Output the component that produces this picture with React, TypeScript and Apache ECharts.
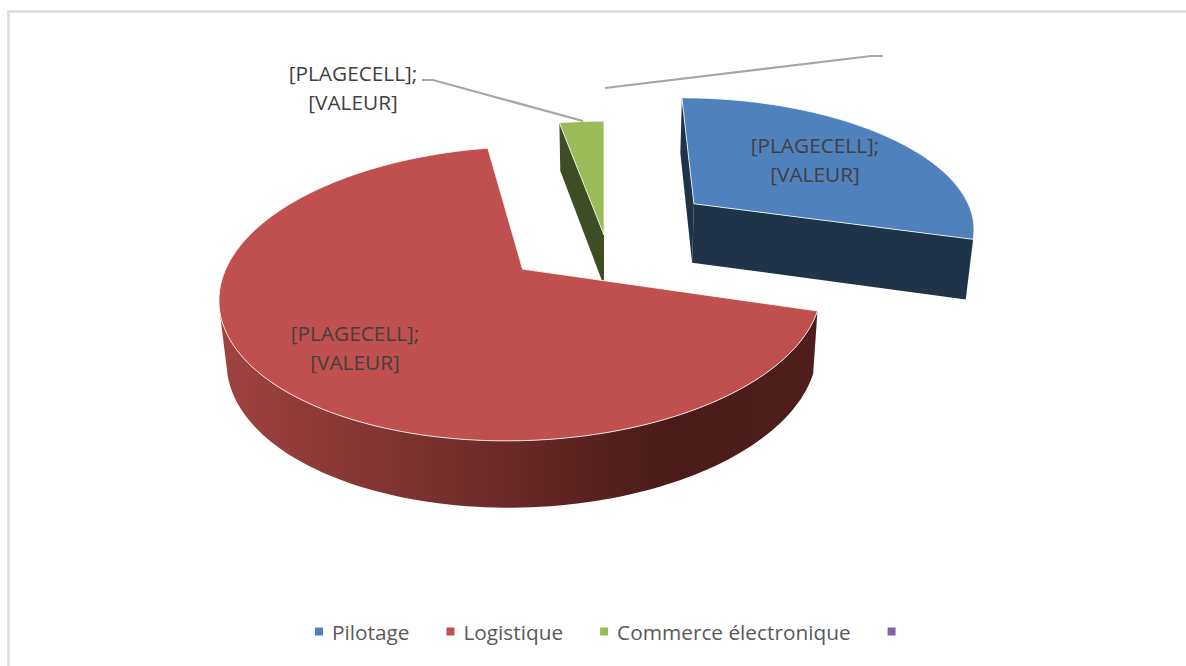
import React, { useEffect, useRef } from "react";
import * as echarts from "echarts";

const categories = ["Pilotage", "Logistique", "Commerce électronique", " "];
const values = [29.5, 67.6, 2.9, 0];
const explosions = [0.41, 0.37, 0, 0];
const topColors = ["#4f81bd", "#c0504d", "#9bbb59", "#8064a2"];
const sideColors = ["#1f3349", "", "#3f4d24", "#4d3b62"];
const labelText = "[PLAGECELL];\n[VALEUR]";

const CX = 604, CY = 235, RX = 285, RY = 132, K = 0.16, DEPTH = 60, SHRINK = 0.98;
const GREEN_DEPTH = 0.85;
const total = values.reduce((a, b) => a + b, 0);
const toAngle = (v: number) => (v / total) * Math.PI * 2;

type P = [number, number];
function project(u: number, v: number, low: boolean, depth: number): P {
  const s = 1 / (1 - K * v);
  const b = low ? SHRINK : 1;
  return [CX + RX * u * s * b, CY + RY * v * s * b + (low ? depth * Math.pow(s, 0.75) : 0)];
}
function area(pts: P[]) {
  let a = 0;
  for (let i = 0; i < pts.length; i++) {
    const [x0, y0] = pts[i];
    const [x1, y1] = pts[(i + 1) % pts.length];
    a += x0 * y1 - x1 * y0;
  }
  return a / 2;
}

function makeRender(index: number) {
  return (_p: any, api: any) => {
    const value = api.value(0);
    if (!value) return { type: "group", children: [] };
    const before = values.slice(0, index).reduce((a, b) => a + b, 0);
    const a0 = toAngle(before);
    const a1 = a0 + toAngle(value);
    const mid = (a0 + a1) / 2;
    const e = explosions[index];
    const ou = e * Math.sin(mid);
    const ov = -e * Math.cos(mid);
    const depth = index === 2 ? DEPTH * GREEN_DEPTH : DEPTH;
    const rim = (a: number, low: boolean) =>
      project(ou + Math.sin(a), ov - Math.cos(a), low, depth);
    const apexT = project(ou, ov, false, depth);
    const apexB = project(ou, ov, true, depth);
    const n = 160;
    const angles: number[] = [];
    for (let i = 0; i <= n; i++) angles.push(a0 + ((a1 - a0) * i) / n);

    const children: any[] = [];
    const side = sideColors[index];
    // radial faces (only those turned to the viewer)
    const startFace: P[] = [apexT, apexB, rim(a0, true), rim(a0, false)];
    const endFace: P[] = [rim(a1, false), rim(a1, true), apexB, apexT];
    if (area(startFace) > 0) children.push({ type: "polygon", shape: { points: startFace }, style: { fill: side } });
    if (area(endFace) > 0) children.push({ type: "polygon", shape: { points: endFace }, style: { fill: side } });
    // outer wall, front-facing stretch only
    const front: number[] = [];
    for (let i = 0; i < n; i++) {
      const q: P[] = [rim(angles[i], false), rim(angles[i + 1], false), rim(angles[i + 1], true), rim(angles[i], true)];
      if (area(q) < 0) {
        if (!front.length) front.push(angles[i]);
        front.push(angles[i + 1]);
      }
    }
    if (front.length) {
      const pts: P[] = [
        ...front.map((a) => rim(a, false)),
        ...front.slice().reverse().map((a) => rim(a, true)),
      ];
      children.push({
        type: "polygon",
        shape: { points: pts },
        style: {
          fill:
            index === 1
              ? new echarts.graphic.LinearGradient(1, 0, 0, 0, [
                  { offset: 0, color: "#4f1e1c" },
                  { offset: 0.25, color: "#4a1b19" },
                  { offset: 0.55, color: "#6e2b29" },
                  { offset: 1, color: "#a04340" },
                ])
              : side,
        },
      });
    }
    // top face
    const top: P[] = [apexT, ...angles.map((a) => rim(a, false))];
    children.push({
      type: "polygon",
      shape: { points: top },
      style: { fill: topColors[index], stroke: "#ffffff", lineWidth: 0.9, strokeOpacity: 0.9 },
    });
    return { type: "group", children };
  };
}

const drawOrder = [10, 12, 11, 9];

export default function App() {
  const ref = useRef<HTMLDivElement>(null);
  useEffect(() => {
    document.body.style.margin = "0";
    const chart = echarts.init(ref.current!, null, { renderer: "svg" });
    const labelStyle = {
      fontFamily: "Open Sans",
      fontSize: 20.8,
      fill: "#404040",
      align: "center",
      lineHeight: 29.5,
      text: labelText,
    };
    chart.setOption({
      animation: false,
      backgroundColor: "#ffffff",
      color: topColors,
      legend: {
        data: categories,
        left: 310,
        top: 616,
        icon: "rect",
        itemWidth: 8,
        itemHeight: 8,
        itemGap: 37,
        selectedMode: false,
        textStyle: { color: "#595959", fontFamily: "Open Sans", fontSize: 20.8, padding: [0, 0, 0, 4] },
      },
      series: categories.map((name, i) => ({
        type: "custom",
        name,
        coordinateSystem: "none",
        z: drawOrder[i],
        silent: true,
        renderItem: makeRender(i),
        data: [[values[i]]],
        itemStyle: { color: topColors[i] },
      })),
      graphic: [
        {
          type: "polyline",
          z: 1,
          shape: { points: [[8.5, 670], [8.5, 11.5], [1190, 11.5]] },
          style: { stroke: "#dcdcdc", lineWidth: 2.5, fill: "none" },
        },
        {
          type: "polyline",
          z: 20,
          shape: { points: [[422, 80], [433, 80], [583, 121]] },
          style: { stroke: "#a6a6a6", lineWidth: 2.2, fill: "none" },
        },
        {
          type: "polyline",
          z: 20,
          shape: { points: [[605, 88], [871, 56], [883, 56]] },
          style: { stroke: "#a6a6a6", lineWidth: 2.2, fill: "none" },
        },
        { type: "text", z: 30, x: 353, y: 58, style: { ...labelStyle } },
        { type: "text", z: 30, x: 815, y: 130, style: { ...labelStyle } },
        { type: "text", z: 30, x: 355, y: 318, style: { ...labelStyle } },
      ],
    });
    return () => chart.dispose();
  }, []);
  return <div ref={ref} style={{ width: 1186, height: 666 }} />;
}
